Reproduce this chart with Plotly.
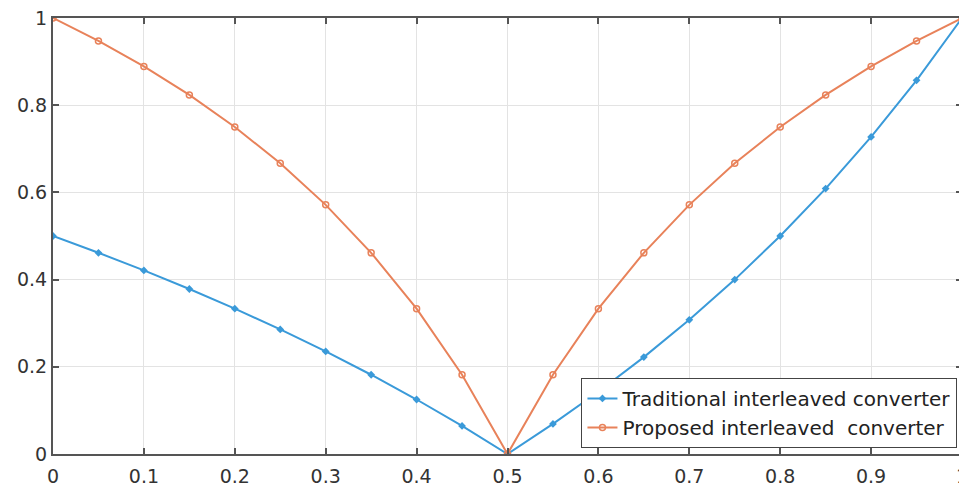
import plotly.graph_objects as go

duty = [0, 0.05, 0.1, 0.15, 0.2, 0.25, 0.3, 0.35, 0.4, 0.45, 0.5,
        0.55, 0.6, 0.65, 0.7, 0.75, 0.8, 0.85, 0.9, 0.95, 1.0]
traditional = [0.5, 0.4615, 0.4211, 0.3784, 0.3333, 0.2857, 0.2353, 0.1818, 0.125, 0.0645, 0.0,
               0.069, 0.1429, 0.2222, 0.3077, 0.4, 0.5, 0.6087, 0.7273, 0.8571, 1.0]
proposed = [1.0, 0.9474, 0.8889, 0.8235, 0.75, 0.6667, 0.5714, 0.4615, 0.3333, 0.1818, 0.0,
            0.1818, 0.3333, 0.4615, 0.5714, 0.6667, 0.75, 0.8235, 0.8889, 0.9474, 1.0]
x_ticks = [0, 0.1, 0.2, 0.3, 0.4, 0.5, 0.6, 0.7, 0.8, 0.9, 1]
x_tick_labels = ["0", "0.1", "0.2", "0.3", "0.4", "0.5", "0.6", "0.7", "0.8", "0.9", "1"]
y_ticks = [0, 0.2, 0.4, 0.6, 0.8, 1]
y_tick_labels = ["0", "0.2", "0.4", "0.6", "0.8", "1"]

blue = "#3A9AD9"
orange = "#E8825A"

fig = go.Figure()
fig.add_trace(go.Scatter(
    x=duty, y=traditional, mode="lines+markers",
    name="Traditional interleaved converter",
    line=dict(color=blue, width=2),
    marker=dict(symbol="diamond", size=6, color=blue),
))
fig.add_trace(go.Scatter(
    x=duty, y=proposed, mode="lines+markers",
    name="Proposed interleaved  converter",
    line=dict(color=orange, width=2),
    marker=dict(symbol="circle-open", size=6, color=orange, line=dict(width=1.5)),
))

axis_common = dict(
    showgrid=True, gridcolor="#E3E3E3", gridwidth=1,
    showline=True, linecolor="#555555", linewidth=2, mirror="ticks",
    ticks="inside", ticklen=6, tickcolor="#555555", tickwidth=1.5,
    zeroline=False, automargin=False, ticklabeloverflow="allow",
    tickfont=dict(family="DejaVu Sans, sans-serif", size=19, color="#333333"),
)

fig.update_layout(
    width=959, height=481,
    margin=dict(l=45, r=5, t=10, b=35),
    plot_bgcolor="white", paper_bgcolor="white",
    xaxis=dict(range=[0, 1], tickvals=x_ticks, ticktext=x_tick_labels,
               ticklabelstandoff=4, **axis_common),
    yaxis=dict(range=[0, 1], tickvals=y_ticks, ticktext=y_tick_labels, **axis_common),
    legend=dict(
        x=0.995, y=0.014, xanchor="right", yanchor="bottom",
        bgcolor="white", bordercolor="#444444", borderwidth=1,
        font=dict(family="DejaVu Sans, sans-serif", size=20, color="#222222"),
        tracegroupgap=0, itemwidth=30,
    ),
    showlegend=True,
)

fig.write_html("out.html")
